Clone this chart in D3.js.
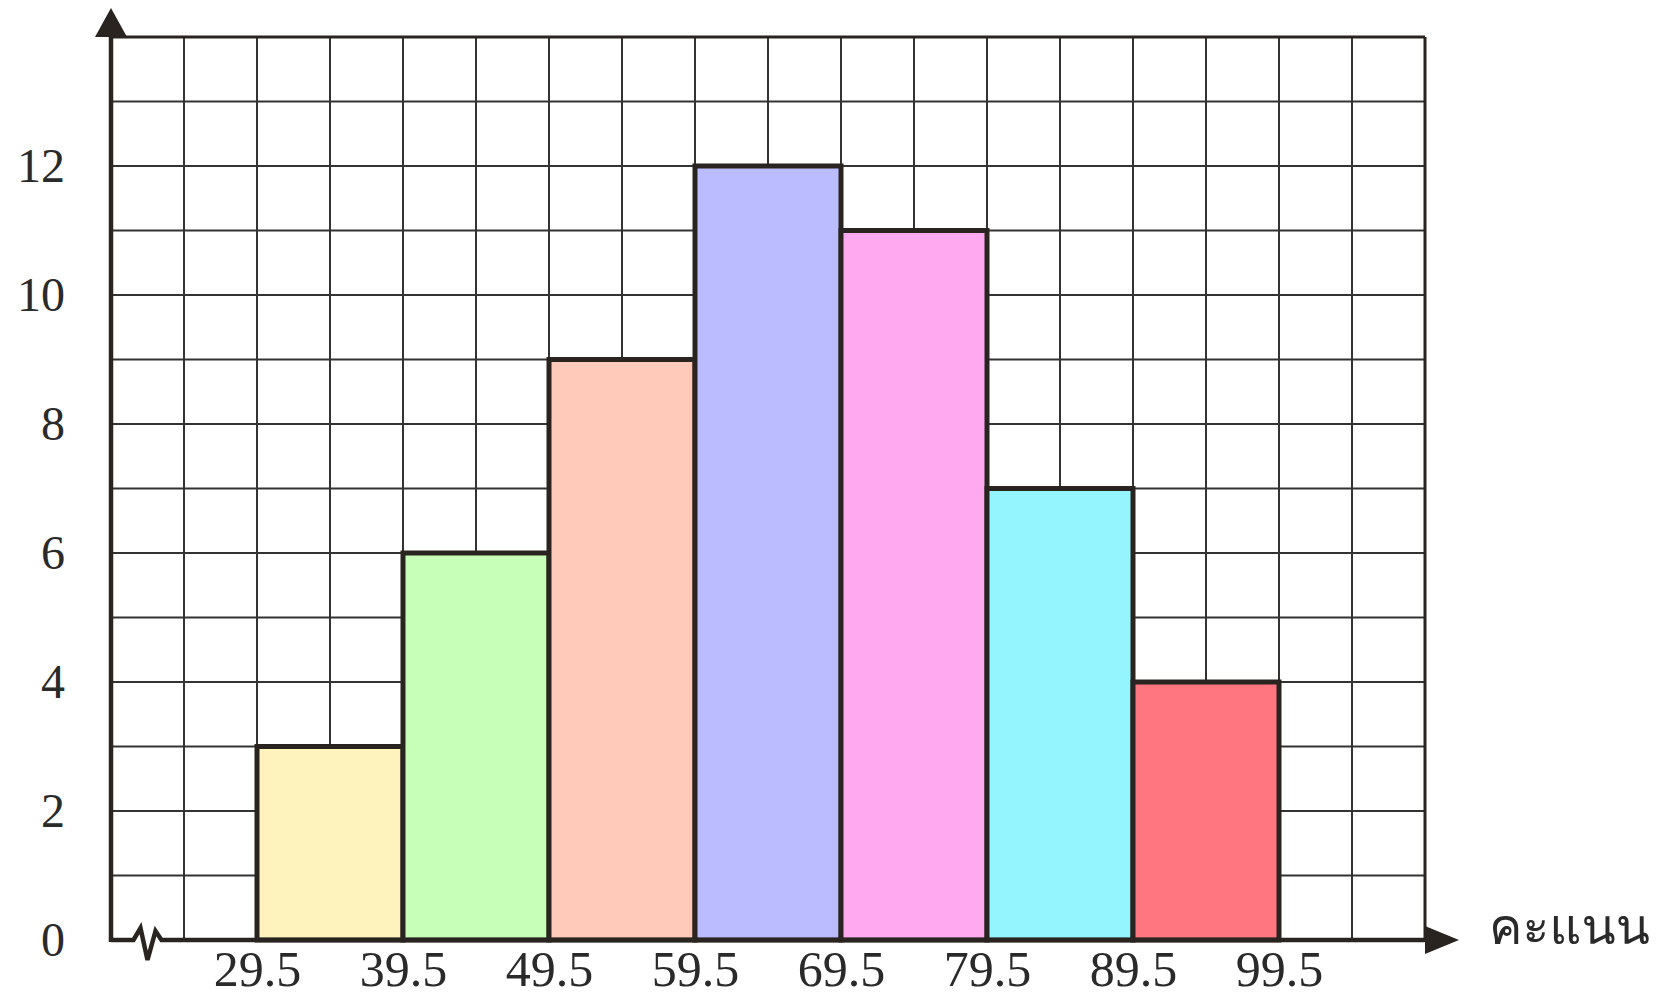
<!DOCTYPE html>
<html>
<head>
<meta charset="utf-8">
<script src="https://cdn.jsdelivr.net/npm/d3@7"></script>
<style>
  html, body { margin: 0; padding: 0; background: #fff; }
  svg { display: block; }
</style>
</head>
<body>
<svg id="chart" width="1668" height="1000"></svg>
<script>
// ---- data ----
const classBounds = [29.5, 39.5, 49.5, 59.5, 69.5, 79.5, 89.5, 99.5];
const frequencies = [3, 6, 9, 12, 11, 7, 4];
const barColors = ["#FFF3BD", "#C8FFB8", "#FFCABA", "#BBBBFF", "#FFAAF0", "#95F5FF", "#FF7580"];
const yTickValues = [0, 2, 4, 6, 8, 10, 12];
const xTickLabels = ["29.5", "39.5", "49.5", "59.5", "69.5", "79.5", "89.5", "99.5"];
const xAxisTitle = "คะแนน";

// ---- layout ----
const svg = d3.select("#chart");
const xDomain = [19.5, 109.5];
const yDomain = [0, 14];
const x = d3.scaleLinear().domain(xDomain).range([111, 1425]);
const y = d3.scaleLinear().domain(yDomain).range([940, 37]);

const gridColor = "#333333";
const axisColor = "#2a2420";

// grid
const vGrid = d3.range(xDomain[0] + 5, xDomain[1] + 0.01, 5);
const hGrid = d3.range(1, yDomain[1] + 0.01, 1);
svg.append("g").selectAll("line").data(vGrid).join("line")
  .attr("x1", d => x(d)).attr("x2", d => x(d))
  .attr("y1", y(yDomain[1])).attr("y2", y(0))
  .attr("stroke", gridColor).attr("stroke-width", 2);
svg.append("g").selectAll("line").data(hGrid).join("line")
  .attr("x1", x(xDomain[0])).attr("x2", x(xDomain[1]))
  .attr("y1", d => y(d)).attr("y2", d => y(d))
  .attr("stroke", gridColor).attr("stroke-width", 2);
svg.append("line")
  .attr("x1", x(xDomain[0])).attr("x2", x(xDomain[1]))
  .attr("y1", y(yDomain[1])).attr("y2", y(yDomain[1]))
  .attr("stroke", axisColor).attr("stroke-width", 3);
svg.append("line")
  .attr("x1", x(xDomain[1])).attr("x2", x(xDomain[1]))
  .attr("y1", y(yDomain[1])).attr("y2", y(0))
  .attr("stroke", axisColor).attr("stroke-width", 3);

// bars
const bins = frequencies.map((f, i) => ({ x0: classBounds[i], x1: classBounds[i + 1], f, c: barColors[i] }));
svg.append("g").selectAll("rect").data(bins).join("rect")
  .attr("x", d => x(d.x0)).attr("width", d => x(d.x1) - x(d.x0))
  .attr("y", d => y(d.f)).attr("height", d => y(0) - y(d.f))
  .attr("fill", d => d.c)
  .attr("stroke", axisColor).attr("stroke-width", 5);

// axes lines
const x0 = x(xDomain[0]);
const y0 = y(0);
svg.append("line").attr("x1", x0).attr("x2", x0).attr("y1", y0 + 2).attr("y2", y(yDomain[1]) - 4)
  .attr("stroke", axisColor).attr("stroke-width", 4.5);
svg.append("path")
  .attr("d", `M${x0},${y(yDomain[1]) - 29} L${x0 - 16},${y(yDomain[1])} L${x0 + 16},${y(yDomain[1])} Z`)
  .attr("fill", axisColor);
const bx = x(xDomain[0] + 2.5);
svg.append("path")
  .attr("d", `M${x0},${y0} L${bx - 14},${y0} L${bx - 7},${y0 - 12} L${bx},${y0 + 20} L${bx + 8},${y0 - 9} L${bx + 14},${y0} L${x(xDomain[1])},${y0}`)
  .attr("fill", "none").attr("stroke", axisColor).attr("stroke-width", 4.5)
  .attr("stroke-linejoin", "miter");
svg.append("path")
  .attr("d", `M${x(xDomain[1]) + 34},${y0} L${x(xDomain[1])},${y0 - 14} L${x(xDomain[1])},${y0 + 14} Z`)
  .attr("fill", axisColor);

// tick labels via axes
const yAxis = d3.axisLeft(y).tickValues(yTickValues).tickSize(0).tickPadding(46).tickFormat(d3.format("d"));
const gy = svg.append("g").attr("transform", `translate(${x0},0)`).call(yAxis);
gy.select(".domain").remove();
gy.selectAll("text").attr("font-family", "'Liberation Serif', serif").attr("font-size", 48).attr("fill", "#2a2a2a");

const xAxis = d3.axisBottom(x).tickValues(classBounds).tickSize(0).tickPadding(10)
  .tickFormat((d, i) => xTickLabels[i]);
const gx = svg.append("g").attr("transform", `translate(0,${y0})`).call(xAxis);
gx.select(".domain").remove();
gx.selectAll("text").attr("font-family", "'Liberation Serif', serif").attr("font-size", 50).attr("fill", "#2a2a2a");

// x axis title
svg.append("text")
  .attr("x", x(xDomain[1]) + 64).attr("y", y0 + 4)
  .attr("font-family", "'Kinnari', 'Norasi', 'Garuda', 'Loma', 'Noto Serif Thai', 'Noto Sans Thai', serif")
  .attr("font-weight", 300)
  .attr("font-size", 50).attr("fill", "#2a2a2a")
  .text(xAxisTitle);
</script>
</body>
</html>
